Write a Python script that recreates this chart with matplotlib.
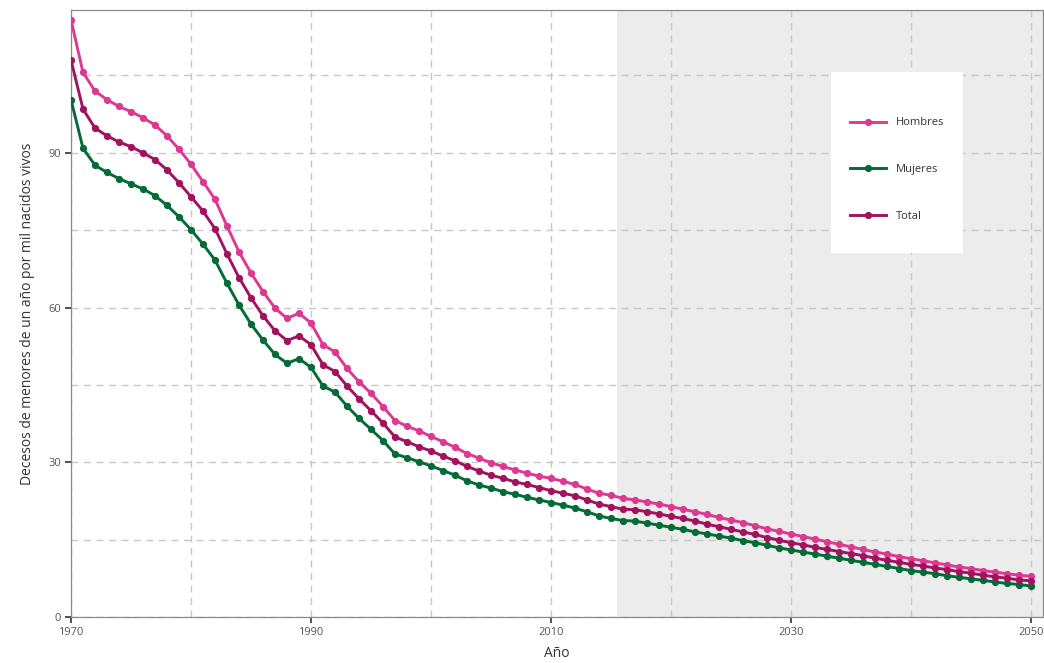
import matplotlib
matplotlib.use("Agg")
import matplotlib.pyplot as plt
from matplotlib.ticker import MultipleLocator
from matplotlib.patches import Rectangle

plt.rcParams['font.family'] = ['Open Sans', 'DejaVu Sans']

years = list(range(1970, 2051))

hombres = [
    115.8, 105.6, 102.0, 100.3, 99.0, 98.0, 96.8, 95.4, 93.3, 90.7,   # 1970-1979
    87.8, 84.4, 81.0, 75.8, 70.8, 66.7, 63.1, 59.9, 57.9, 58.9,       # 1980-1989
    57.0, 52.8, 51.4, 48.2, 45.6, 43.4, 40.8, 38.1, 37.0, 36.1,       # 1990-1999
    35.0, 34.0, 32.9, 31.7, 30.8, 29.9, 29.2, 28.5, 27.9, 27.3,       # 2000-2009
    26.9, 26.3, 25.7, 24.8, 24.0, 23.6, 23.0, 22.7, 22.3, 21.9,       # 2010-2019
    21.4, 20.9, 20.4, 19.9, 19.3, 18.8, 18.3, 17.7, 17.1, 16.6,       # 2020-2029
    16.1, 15.6, 15.1, 14.6, 14.1, 13.6, 13.1, 12.6, 12.2, 11.7,       # 2030-2039
    11.3, 10.9, 10.5, 10.1, 9.7, 9.4, 9.0, 8.7, 8.4, 8.1,             # 2040-2049
    7.9,                                                              # 2050
]

mujeres = [
    100.3, 90.9, 87.6, 86.2, 85.0, 84.0, 83.0, 81.7, 79.8, 77.6,
    75.1, 72.3, 69.2, 64.7, 60.5, 56.8, 53.7, 50.9, 49.2, 50.1,
    48.4, 44.8, 43.6, 40.9, 38.5, 36.4, 34.2, 31.6, 30.9, 30.1,
    29.3, 28.4, 27.5, 26.4, 25.6, 25.0, 24.3, 23.8, 23.2, 22.7,
    22.2, 21.7, 21.1, 20.4, 19.6, 19.1, 18.7, 18.6, 18.2, 17.8,
    17.4, 17.0, 16.5, 16.1, 15.7, 15.3, 14.8, 14.4, 13.9, 13.4,
    13.0, 12.6, 12.2, 11.8, 11.4, 11.0, 10.6, 10.2, 9.8, 9.4,
    9.0, 8.7, 8.4, 8.0, 7.7, 7.4, 7.1, 6.8, 6.5, 6.3,
    6.0,
]

total = [
    108.0, 98.5, 94.8, 93.3, 92.1, 91.2, 90.0, 88.7, 86.7, 84.2,
    81.5, 78.7, 75.3, 70.4, 65.8, 61.9, 58.4, 55.5, 53.6, 54.5,
    52.8, 48.9, 47.6, 44.8, 42.3, 40.0, 37.6, 34.9, 34.0, 33.0,
    32.2, 31.2, 30.3, 29.2, 28.3, 27.5, 26.9, 26.2, 25.7, 25.1,
    24.5, 24.0, 23.5, 22.7, 21.9, 21.4, 20.9, 20.8, 20.4, 20.0,
    19.5, 19.1, 18.6, 18.0, 17.5, 17.0, 16.5, 16.0, 15.4, 14.9,
    14.4, 14.0, 13.5, 13.1, 12.7, 12.3, 11.9, 11.4, 11.0, 10.6,
    10.2, 9.9, 9.5, 9.2, 8.8, 8.5, 8.1, 7.8, 7.5, 7.2,
    7.0,
]

series_names = ["Hombres", "Mujeres", "Total"]
series_values = [hombres, mujeres, total]
series_colors = ["#dc3a92", "#046a38", "#a1135e"]

x_major = [1970, 1990, 2010, 2030, 2050]
y_major = [0, 30, 60, 90]
projection_start = 2015.5

fig = plt.figure(figsize=(10.44, 6.63), dpi=100)
ax = fig.add_axes([71/1044, 46/663, 972/1044, 607/663])

ax.set_xlim(1970, 2051)
ax.set_ylim(0, 117.7)

ax.axvspan(projection_start, 2051, color="#ececec", zorder=0, lw=0)

for name, vals, col in zip(series_names, series_values, series_colors):
    ax.plot(years, vals, color=col, lw=2.1, marker="o", markersize=4.2,
            label=name, zorder=3)

ax.set_xticks(x_major)
ax.set_yticks(y_major)
ax.xaxis.set_minor_locator(MultipleLocator(10))
ax.yaxis.set_minor_locator(MultipleLocator(15))
ax.set_axisbelow(True)
ax.grid(which="both", color="#c8c8c8", linestyle=(0, (5, 4)), linewidth=1.0)
ax.tick_params(which="minor", length=0)
ax.tick_params(which="major", length=4, width=1.2, color="#333333",
               labelsize=8, labelcolor="#555555", pad=3)

for s in ax.spines.values():
    s.set_color("#8a8a8a")
    s.set_linewidth(0.9)

ax.set_xlabel("Año", fontsize=10, color="#333333", labelpad=6)
ax.set_ylabel("Decesos de menores de un año por mil nacidos vivos",
              fontsize=10, color="#333333", labelpad=10)

# legend background box
ax.add_patch(Rectangle((0.782, 0.600), 0.136, 0.298, transform=ax.transAxes,
                       facecolor="white", edgecolor="none", zorder=4))
leg = ax.legend(loc="upper left", bbox_to_anchor=(0.801, 0.823),
                frameon=False, borderpad=0, borderaxespad=0,
                handlelength=3.3, handletextpad=0.9, labelspacing=3.2,
                fontsize=8)
leg.set_zorder(5)
for t in leg.get_texts():
    t.set_color("#333333")

fig.savefig("out.png", dpi=100)
